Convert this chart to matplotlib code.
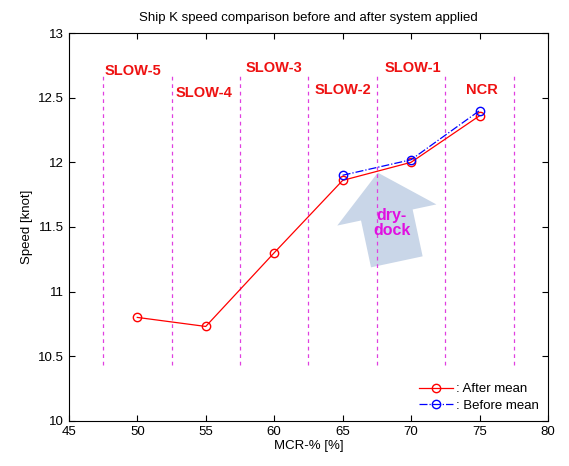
import matplotlib
matplotlib.use('Agg')
import matplotlib.pyplot as plt

plt.rcParams['font.family'] = ['Liberation Sans', 'DejaVu Sans']

# MCR load points and mean speeds
mcr_after = [50, 55, 60, 65, 70, 75]
speed_after = [10.80, 10.73, 11.30, 11.86, 12.00, 12.36]
mcr_before = [65, 70, 75]
speed_before = [11.90, 12.02, 12.40]

# operating mode boundaries and labels
bounds = [47.5, 52.5, 57.5, 62.5, 67.5, 72.5, 77.5]
modes = ['SLOW-5', 'SLOW-4', 'SLOW-3', 'SLOW-2', 'SLOW-1', 'NCR']
mode_x = [49.7, 54.9, 60.0, 65.0, 70.1, 75.2]
mode_y = [12.71, 12.54, 12.73, 12.56, 12.73, 12.56]

fig = plt.figure(figsize=(5.69, 4.66), dpi=100)
ax = fig.add_axes([0.121, 0.097, 0.842, 0.832])

# dry-dock arrow
ax.annotate('', xy=(67.57, 11.92), xytext=(68.96, 11.23),
            arrowprops=dict(arrowstyle='simple,head_length=0.82,head_width=1.92,tail_width=1.0',
                            mutation_scale=38, fc='#c9d6e8', ec='none',
                            shrinkA=0, shrinkB=0), zorder=1)

for b in bounds:
    ax.plot([b, b], [10.43, 12.68], color='#e040e0', ls=(0, (3, 3)), lw=0.9, zorder=2)

ax.plot(mcr_after, speed_after, color='red', lw=0.9, marker='o', ms=6,
        mfc='none', mec='red', label=': After mean', zorder=3)
ax.plot(mcr_before, speed_before, color='blue', lw=0.9, ls='-.', marker='o', ms=6,
        mfc='none', mec='blue', label=': Before mean', zorder=3)

for t, x, y in zip(modes, mode_x, mode_y):
    ax.text(x, y, t, color='#ee1111', fontsize=10.5, fontweight='bold',
            ha='center', va='center')

ax.text(68.6, 11.53, 'dry-\ndock', color='#e010e0', fontsize=11.5, fontweight='bold',
        ha='center', va='center', linespacing=1.0, zorder=4)

ax.set_xlim(45, 80)
ax.set_ylim(10, 13)
ax.set_xticks(range(45, 81, 5))
ax.set_yticks([10, 10.5, 11, 11.5, 12, 12.5, 13])
ax.set_yticklabels(['10', '10.5', '11', '11.5', '12', '12.5', '13'])
ax.tick_params(direction='in', top=True, right=True, labelsize=9.5, length=4)
ax.set_xlabel('MCR-% [%]', fontsize=9.5, labelpad=2)
ax.set_ylabel('Speed [knot]', fontsize=9.5)
ax.set_title('Ship K speed comparison before and after system applied', fontsize=9.5, pad=9)

ax.legend(loc='lower right', fontsize=9.5, frameon=False, handlelength=2.6,
          borderaxespad=0.3, labelspacing=0.3, handletextpad=0.2)

fig.savefig('out.png', dpi=100)
